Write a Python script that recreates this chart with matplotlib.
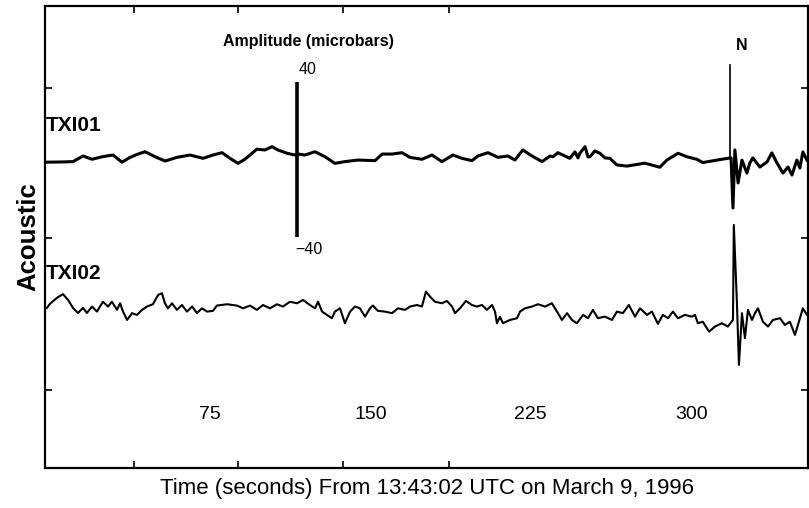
import matplotlib
matplotlib.use("Agg")
import matplotlib.pyplot as plt

plt.rcParams["font.family"] = ["Liberation Sans", "DejaVu Sans"]

# time (s) and pressure (microbars) picked off the record for each station
txi01_t = [-2.2, 4.8, 10.9, 15.6, 19.8, 24.5, 29.6, 33.8, 37.6, 41.3, 44.6, 49.3,
           54.0, 59.5, 65.6, 71.7, 76.4, 80.6, 84.3, 88.1, 91.3, 96.9, 100.7,
           104.0, 106.8, 111.0, 114.7, 116.1, 119.4, 124.1, 128.8, 133.4, 138.1,
           144.2, 152.2, 155.5, 160.1, 164.8, 168.5, 174.1, 178.8, 183.5, 188.6,
           192.8, 197.5, 200.3, 205.0, 209.7, 214.3, 217.6, 221.3, 225.6, 230.3,
           234.0, 235.4, 237.7, 243.3, 245.7, 247.1, 248.0, 250.4, 251.8, 252.7,
           255.0, 257.4, 259.7, 262.0, 265.3, 270.0, 278.4, 285.4, 288.7, 293.9,
           298.1, 302.7, 305.5, 312.1, 317.2, 318.7, 319.6, 320.5, 322.0, 323.8,
           326.1, 327.5, 328.9, 332.2, 335.5, 337.8, 340.2, 343.0, 345.3, 347.2,
           349.5, 350.9, 352.3, 354.2]
txi01_p = [-1.4, -1.3, -1.1, 1.8, 0.1, 1.4, 2.3, -1.4, 1.1, 2.8, 4.0, 1.4,
           -0.8, 1.1, 2.3, 0.6, 2.3, 3.5, 0.6, -2.0, 0.1, 5.3, 4.9,
           6.6, 4.9, 3.2, 2.3, 2.8, 2.3, 4.0, 1.4, -2.0, -1.1,
           -0.3, -0.6, 2.8, 2.8, 3.5, 1.1, 0.1, 2.3, -1.1, 2.3,
           0.6, -0.6, 1.8, 3.5, 1.1, 1.8, -0.3, 4.9, 1.8, -1.1,
           1.8, 1.4, 3.5, 0.6, 3.9, 0.8, 3.2, 6.6, 1.3, 1.4,
           4.4, 3.2, 0.8, 0.6, -2.8, -3.4, -1.9, -4.0, -0.3, 3.2,
           1.4, 0.1, -1.6, -0.3, 0.6, 0.8, -25.0, 4.9, -12.1, -0.3,
           -7.0, -1.8, 0.8, -3.9, -1.3, 3.4, -1.8, -7.0, -3.9, -8.0,
           -0.3, -4.4, 3.9, -0.3]

txi02_t = [-1.3, 0.1, 3.4, 6.2, 8.6, 10.9, 13.2, 15.6, 17.4, 19.8, 22.1, 24.9,
           27.3, 29.1, 31.5, 32.9, 34.3, 36.2, 38.5, 40.8, 43.2, 45.5, 48.3,
           50.7, 52.5, 53.9, 55.3, 57.2, 59.5, 61.9, 64.2, 66.6, 68.9, 71.2,
           73.6, 76.4, 78.2, 82.9, 87.6, 90.4, 93.7, 96.9, 99.8, 103.0, 106.3,
           109.1, 112.4, 115.7, 118.5, 121.7, 124.1, 125.5, 127.4, 129.7, 132.0,
           133.4, 135.8, 138.1, 140.5, 142.8, 145.1, 147.5, 149.8, 151.2, 153.5,
           156.8, 160.1, 162.9, 166.2, 168.5, 171.8, 174.1, 176.0, 177.9, 180.2,
           183.5, 185.8, 188.2, 189.6, 191.9, 194.7, 197.5, 199.8, 202.2, 204.5,
           206.9, 208.3, 209.2, 210.6, 212.0, 215.3, 218.6, 220.0, 222.3, 225.6,
           228.4, 231.7, 234.9, 237.3, 239.6, 242.0, 244.3, 246.6, 249.5, 251.8,
           254.1, 256.4, 259.7, 263.0, 265.3, 268.1, 270.9, 273.8, 276.1, 279.4,
           281.7, 284.5, 286.8, 289.2, 291.5, 293.9, 297.1, 300.4, 301.8, 303.2,
           305.5, 308.4, 311.2, 314.4, 317.2, 319.6, 320.0, 321.4, 322.4, 323.8,
           325.2, 326.6, 328.5, 329.9, 331.3, 333.6, 336.0, 338.3, 341.6, 343.9,
           346.2, 348.6, 350.0, 352.3, 354.2]
txi02_p = [0.0, 2.1, 5.2, 7.1, 4.1, 0.0, -2.6, 0.0, -2.6, 0.7, -1.9, 3.2,
           0.7, 3.2, -1.0, 2.4, -1.9, -6.2, -2.7, -3.6, -1.0, 0.7, 1.9,
           6.7, 7.6, 2.4, -0.2, 2.4, -1.0, 1.5, -1.9, 0.7, -2.7, -0.2,
           -1.9, -1.5, 1.2, 1.9, 1.2, -0.2, 1.2, -1.0, 1.5, -0.2, 1.9,
           0.7, 3.2, 2.4, 4.1, 1.5, -0.2, 3.2, -1.9, -3.6, -5.3,
           -1.9, -0.2, -7.9, -1.9, 0.7, -0.2, -4.5, -0.2, 1.2, -1.5,
           -1.9, -2.7, -0.2, -1.0, 0.7, 1.5, 0.7, 8.4, 5.8, 3.2,
           2.4, 3.6, 0.7, -2.7, -0.2, 3.6, 1.5, 0.7, 1.5, -1.0,
           1.5, -1.9, -7.9, -4.5, -7.9, -6.2, -5.3, -1.9, -0.2, 0.7,
           1.9, 0.7, 2.4, -1.9, -6.2, -2.7, -6.2, -7.9, -3.6, -5.3,
           -1.0, -5.3, -4.5, -6.2, -1.9, -2.7, 1.5, -4.5, -0.2, -3.6,
           -1.9, -8.2, -3.6, -5.3, -1.9, -5.3, -3.6, -4.5, -3.6, -7.9,
           -7.1, -12.2, -9.6, -7.9, -9.6, -6.2, 42.8, 4.1, -29.4, -2.7,
           -15.6, -1.0, -6.2, -2.7, -0.2, -7.1, -9.6, -6.2, -5.3, -8.8,
           -7.1, -13.9, -8.8, -0.2, -3.6]

stations = ["TXI01", "TXI02"]
offsets = [0.0, -76.5]

tick_labels = ["75", "150", "225", "300"]
tick_values = [75, 150, 225, 300]
frame_ticks = [39.5, 88.3, 137.2, 186.8]
level_ticks = [36.9, -40.5, -118.8]

scale_t = 115.6
scale_range = [-40, 40]
arrival_t = 318.3

fig = plt.figure(figsize=(8.09, 5.08), dpi=100)
ax = fig.add_axes([45 / 809, 40 / 508, 763 / 809, 462 / 508])

ax.plot(txi01_t, [p + offsets[0] for p in txi01_p], color="black", lw=2.2)
ax.plot(txi02_t, [p + offsets[1] for p in txi02_p], color="black", lw=1.5)

for name, off in zip(stations, offsets):
    ax.text(-2.0, off + 17.5, name, fontsize=15, fontweight="bold",
            ha="left", va="center")

# amplitude scale bar
ax.plot([scale_t, scale_t], scale_range, color="black", lw=2.6,
        solid_capstyle="butt")
ax.text(scale_t + 4.8, scale_range[1] + 6.3, "40", fontsize=11.5,
        ha="center", va="center")
ax.text(scale_t + 5.5, scale_range[0] - 6.3, "\u221240", fontsize=11.5,
        ha="center", va="center")
ax.text(scale_t + 5.5, 61, "Amplitude (microbars)", fontsize=11.5,
        fontweight="bold", ha="center", va="center")

# arrival marker
ax.plot([arrival_t, arrival_t], [0.8, 48.7], color="black", lw=1.2)
ax.text(arrival_t + 5.5, 59, "N", fontsize=11.5, fontweight="bold",
        ha="center", va="center")

for lab, v in zip(tick_labels, tick_values):
    ax.text(v, -131.2, lab, fontsize=14, ha="center", va="center")

ax.set_xlim(-2.2, 354.7)
ax.set_ylim(-159, 79.1)
ax.set_xticks(frame_ticks)
ax.set_yticks(level_ticks)
ax.tick_params(direction="in", length=5, width=1.2, top=True, right=True,
               labelbottom=False, labelleft=False)
for s in ax.spines.values():
    s.set_linewidth(1.6)

ax.set_xlabel("Time (seconds) From 13:43:02 UTC on March 9, 1996",
              fontsize=16, labelpad=7)
ax.set_ylabel("Acoustic", fontsize=18.5, fontweight="bold", labelpad=3)

fig.savefig("out.png", dpi=100, facecolor="white")
